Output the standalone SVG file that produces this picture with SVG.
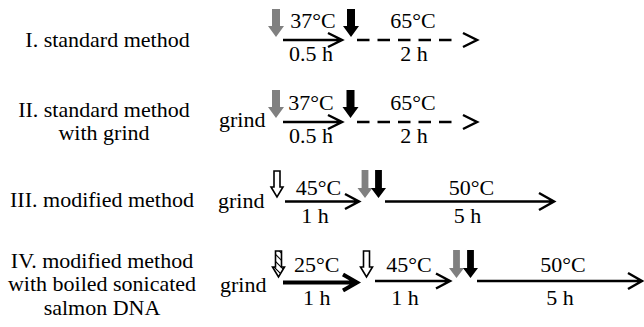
<svg xmlns="http://www.w3.org/2000/svg" width="644" height="327" viewBox="0 0 644 327">
<style>
text{font-family:"Liberation Serif","Times New Roman",serif;font-size:22px;fill:#000}
.m{text-anchor:middle}
.ln{fill:none;stroke:#000;stroke-width:2.5;stroke-linejoin:miter}
.thick{stroke-width:4}
.dash{stroke-dasharray:12.5,8}
.gray{fill:#808080}
.blk{fill:#000}
.open{fill:#fff;stroke:#000;stroke-width:1.6}
.hatch{fill:url(#hp);stroke:#000;stroke-width:1.6}
</style>
<defs>
<path id="big" d="M-4,0 H4 V17 H8 L0,28 L-8,17 H-4 Z"/>
<path id="small" d="M-3.4,0 H3.4 V18 H7.5 L0,28 L-7.5,18 H-3.4 Z"/>
<path id="opn" d="M-3,0 H3 V16 H6 L0,26 L-6,16 H-3 Z"/>
<pattern id="hp" width="5" height="5" patternUnits="userSpaceOnUse" patternTransform="rotate(-45)">
<rect width="5" height="5" fill="#fff"/>
<line x1="0" y1="0" x2="0" y2="5" stroke="#000" stroke-width="2"/>
</pattern>
</defs>

<g id="labels">
<g id="label-I"><text class="m" x="107.5" y="47">I. standard method</text></g>
<g id="label-II"><text class="m" x="104" y="117">II. standard method</text><text class="m" x="104" y="140">with grind</text></g>
<g id="label-III"><text class="m" x="102" y="207">III. modified method</text></g>
<g id="label-IV"><text class="m" x="102" y="268">IV. modified method</text><text class="m" x="102" y="291">with boiled sonicated</text><text class="m" x="102" y="315">salmon DNA</text></g>
</g>

<g id="connectors">
<path class="ln" d="M283,40 H341 M328,33 L342,40 L328,47"/>
<path class="ln dash" d="M357,40 H458"/>
<path class="ln" d="M463,33 L477,40 L463,47"/>
<path class="ln" d="M283,122 H341 M328,115 L342,122 L328,129"/>
<path class="ln dash" d="M357,122 H458"/>
<path class="ln" d="M463,115 L477,122 L463,129"/>
<path class="ln" d="M285,201.5 H358 M345,194 L359,201.5 L345,209"/>
<path class="ln" d="M385,201.5 H553 M539,193 L554,201.5 L539,210"/>
<path class="ln thick" d="M283,282.5 H355 M343,274.5 L357,282.5 L343,290.5"/>
<path class="ln" d="M375,281 H448 M436,273.5 L450,281 L436,288.5"/>
<path class="ln" d="M477,281 H641 M628,273 L642,281 L628,289"/>
</g>

<g id="row-I">
<use href="#big" class="gray" x="276" y="9"/>
<use href="#big" class="blk" x="351" y="9"/>
<text class="m" x="313" y="28">37°C</text>
<text class="m" x="311" y="61">0.5 h</text>
<text class="m" x="413" y="28">65°C</text>
<text class="m" x="414" y="61">2 h</text>
</g>

<g id="row-II">
<text x="219" y="127">grind</text>
<use href="#big" class="gray" x="276" y="90"/>
<use href="#big" class="blk" x="350.5" y="90"/>
<text class="m" x="311" y="110">37°C</text>
<text class="m" x="311" y="143">0.5 h</text>
<text class="m" x="413" y="110">65°C</text>
<text class="m" x="414" y="143">2 h</text>
</g>

<g id="row-III">
<text x="218" y="208">grind</text>
<use href="#opn" class="open" x="277" y="171"/>
<use href="#small" class="gray" x="365" y="170"/>
<use href="#small" class="blk" x="378.5" y="170"/>
<text class="m" x="318.5" y="195">45°C</text>
<text class="m" x="315" y="223">1 h</text>
<text class="m" x="471.5" y="195">50°C</text>
<text class="m" x="467.5" y="223">5 h</text>
</g>

<g id="row-IV">
<text x="220" y="292">grind</text>
<use href="#opn" class="hatch" x="278.5" y="251"/>
<use href="#opn" class="open" x="366.5" y="251"/>
<use href="#small" class="gray" x="456.5" y="250"/>
<use href="#small" class="blk" x="470.5" y="250"/>
<text class="m" x="316.7" y="272">25°C</text>
<text class="m" x="316.7" y="305">1 h</text>
<text class="m" x="409" y="272">45°C</text>
<text class="m" x="405" y="305">1 h</text>
<text class="m" x="563" y="272">50°C</text>
<text class="m" x="560" y="305">5 h</text>
</g>
</svg>
